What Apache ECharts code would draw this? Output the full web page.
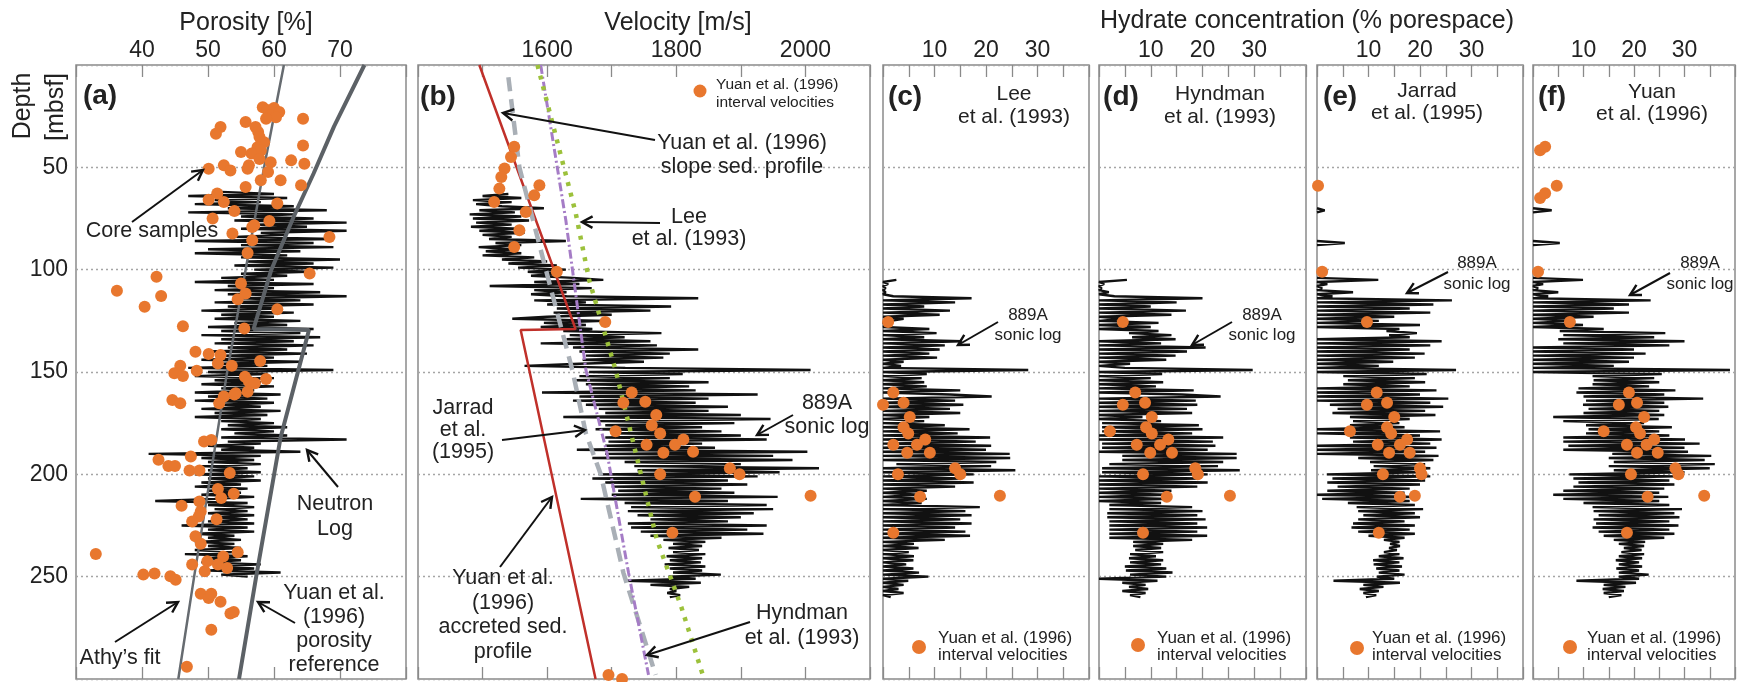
<!DOCTYPE html>
<html>
<head>
<meta charset="utf-8">
<script src="https://cdn.jsdelivr.net/npm/echarts@6/dist/echarts.min.js"></script>
<style>
  html, body { margin: 0; padding: 0; background: #fff; }
  #chart { width: 1738px; height: 682px; }
</style>
</head>
<body>
<div id="chart"></div>
<script>
// ---- data ----
// depth logs: one value per metre, starting at the given depth (mbsf)
const neutronStart = 62;
const neutronLog = [52,60,47,62,51,58,48,63,53,68, 47,63,55,66,54,71,57,65,55,71, 58,62,54,69,48,66,55,69,50,64,
  48,62,55,70,56,66,54,69,57,65, 55,62,52,60,48,66,53,60,51,67, 53,71,55,64,51,66,53,61,49,63,
  52,60,51,64,54,62,50,66,52,64, 49,67,52,63,51,66,53,62,50,65, 52,60,49,64,52,59,47,69,50,59,
  48,60,51,58,49,60,52,57,48,61, 50,59,48,60,52,58,49,61,51,59, 48,58,52,60,53,62,52,60,54,62,
  52,71,53,58,50,57,52,64,41,58, 49,57,50,58,49,56,50,58,48,57, 50,58,49,55,48,56,50,55,49,57,
  51,42,56,50,57,51,56,50,57,51, 56,50,57,46,56,50,57,48,54,50, 55,48,54,50,55,48,54,46.5,56,50,
  55,49,58,51,57,50,61,52,56];

const sonicStart = 63;
const sonicLog = [1540,1500,1560,1485,1545,1490,1530,1595,1495,1550, 1480,1560,1485,1572,1490,1545,1482,1555,1495,1565,
  1500,1545,1510,1629,1520,1560,1494,1550,1505,1560, 1500,1580,1530,1600,1540,1615,1555,1629,1570,1620,
  1575,1640,1687,1580,1650,1511,1669,1580,1630,1575, 1630,1834,1580,1660,1600,1792,1615,1760,1610,1700,
  1600,1546,1690,1595,1660,1590,1670,1625,1777,1635, 1720,1630,1760,1590,1770,1640,1834,1650,1790,1660,
  1780,1655,1750,1650,1565,1721,2008,1665,1810,1650, 1790,1645,1850,1660,1820,1670,1830,1592,1926,1650,
  1850,1640,1830,1660,1880,1680,1850,1690,1900,1625, 1946,1680,1890,1690,1840,1675,1870,1700,1900,1690,
  1940,1695,1840,1690,1860,1646,2003,1690,1950,1670, 1980,1720,1900,1735,2021,1740,1960,1680,1926,1670,
  1880,1690,1910,1700,1870,1710,1890,1700,1957,1652, 1880,1720,1940,1730,1950,1725,1920,1740,1900,1760,
  1880,1725,1940,1730,1910,1745,1935,1760,1870,1780, 1845,1795,1840,1788,1835,1795,1845,1785,1840,1790,
  1838,1782,1845,1790,1840,1795,1869,1788,1830,1721, 1838,1760,1820,1790,1800,1786,1806,1790];

const hydLeeStart = 105;
const hydLee = [2.6,0,1,0,0.5,0,0.5,0,2,17.2, 0,14,0,8,0,13,0,11,0,4, 1.5,0,1,0,9,0,10.4,0,8,0,
  15.3,0,12,0,11,0,9,0,10.5,0, 4,0,3.5,0,28.2,0,8.5,0,7.5,0, 8,0,8.5,0,15,0,13,21.1,0,14,
  0,15.6,0,13,0,15,0,9,0,8, 0,12,0,16.8,0,14.5,0,20.8,0,18, 0,21,0,20,0,24.6,0,24.7,0,22,
  2.6,21,0,25.7,0,17.6,0,15,0,17.6, 0,14,0,8.5,0,7,0,8.5,0,7.5, 0,18.8,0,16,0,17.2,0,15,0,17.2,
  0,14,0,16,0,16.9,0,12,0,6, 0,6.9,0,5,0,6,0,5.9,0,4.5, 0,5.9,0,7,0,8.8,0,4.9,0,4, 0,3,0,4,0,1.5];

const hydHyndmanStart = 105;
const hydHyndman = [5.4,0,1,0,0.5,0,1.9,0,3,20, 0,15,0,10,0,16.8,0,14,0,5, 0,11.5,0,10,0,11.5,5.8,14,6.4,14.8,
  0,12,0,20.6,0,17,0,14.8,0,13, 0,6,0,5,29.7,0,12.2,0,10,0, 12.4,0,11,0,18.3,0,16,23.5,0,18.7,
  0,19,0,17,0,18,0,8.4,0,12, 0.6,19.3,0.6,20,0.6,18,0,24,0,22, 0.6,22.5,0.6,21,0,26.6,4.5,26.6,4.5,24,
  2,23,0.6,27.2,0.6,21,0,19,0,21, 0,19,0,14,0,13,0,13.5,0,12, 2,18,2,20,1.6,19,1.6,20.6,2,19,
  2,20.9,2,19,2,20.9,2,18,6.6,12.4, 6.6,12,7,12.4,6,11,5.8,12.4,6,12, 5,13,5.2,14.2,6,13,0,11.3,4.5,9,
  5.8,9.5,4.5,9,6,8];

const hydJarradStart = 70;
const hydJarrad = [0,1.5,0, null,null,null,null,null,null,null,null,null,null,null,null,null, 0,5.4,0,
  null,null,null,null,null,null,null,null,null,null,null,null,null,null,null, 0,
  11.9,0,2,0,1,0,7,0,3,0, 26.2,0,22.6,0,18,0,22,0,15,0, 12,0,20,0,16,13.5,19.4,14,18,0,
  24.2,0,22,0,18,0,20.9,0,19,0, 14.8,0,12,0,27,0,21.3,5.1,19,6, 21,5.1,18,0,23.2,0,20,0,25.5,0,
  22,2.5,24.5,4,21,3,23,6.4,18,7, 16,6.4,17,0,23.9,0,20,6.4,24.2,7, 22,0,23.2,0,21,0,23.6,8,22.6,10.3,
  21,11,22,10.5,20,1.9,22,3,21,2, 20,4,18,2,17,0,19.4,1,18,6, 19,7.7,20.6,8,19,9,20,8,17,7,
  19,6.7,18,8,19,10,17,13,16,14.2, 16.1,14,15.5,13,16,12,16.8,10.9,16,11, 16.5,11.5,16,12,17,11.6,15,3.2,16.1,9,
  12.9,8.3,12,9,11.5,9.5];

const hydYuanStart = 70;
const hydYuan = [0,3.7,0, null,null,null,null,null,null,null,null,null,null,null,null,null, 0,5.3,0,
  null,null,null,null,null,null,null,null,null,null,null,null,null,null,null, 0,
  9.9,0,2,0,1,0,5,0,3,0, 23.3,0,19,0,16,0,19,0,12,0, 8,0,9.9,0,14,5.3,26.2,6,24,5,
  30,6,27,0,20,0,22.3,0,20,0, 19,0,16,0,39,0,25.5,11.8,24,12, 25,11.8,23,9,28.2,8.6,26,10,33.7,10.5,
  26,9.9,26.8,11,25,10,26,4,24.9,6, 22,10.5,27.5,11,25,10.5,27,6,30.1,6, 33,7,30,6,30.7,15.7,35.3,15,34,16,
  36,15,35,16,30,7.2,28.2,8,27,9, 28,8,26,6,25,4,26.8,6,25,10, 27,11.8,29.5,12,28,13,29,12,27,12.5,
  28.8,11.8,27,13,28,14,26,16,22.2,17, 22,18,21.5,17.5,22,17,21.6,16.4,21,17, 21.6,16.5,21,17,22.9,17,21,8.6,20.4,14,
  18.3,13.8,18,14,17.5,15];

// [porosity %, depth]
const coreSamples = [[58.3,20.6],[59,22],[60,21],[60.8,23],[59.5,24.6],[60.3,25.5],[58.8,26.3],[64.4,26.3],[55.7,27.9],
  [51.9,30.3],[51.2,33.6],[57.2,30.3],[57.6,32.7],[57.8,35.2],[58.5,37.7],[57.5,40.2],[64.4,39.3],[58,41.8],[55,42.5],
  [56.6,43.3],[57.8,45.9],[56.2,49],[59.5,47.5],[62.6,46.6],[64.6,48.2],[52.4,49],[53.4,51.5],[56,50.7],[59.1,52.3],
  [50.1,50.7],[58,56.3],[61,56.3],[55.7,59.6],[64.1,58.8],[51.4,62.8],[50.1,65.8],[52.4,66.9],[60.5,67.7],[54,71.3],
  [50.7,75],[59.3,76.2],[56.7,79.1],[53.7,82.3],[68.4,84],[57,78.3],[56.7,85.6],[56,91.8],[65.4,101.9],[42.2,103.5],
  [36.2,110.3],[42.9,112.9],[40.4,118.1],[55,106.8],[55.7,111.6],[54.5,114.5],[60.5,119.4],[46.2,127.6],[55.5,128.7],
  [48.1,140.1],[50.1,141.2],[51.9,141.7],[51.5,145.8],[57.9,144.6],[45.8,146.9],[53.6,146.9],[44.9,150.6],[48.3,149.4],
  [46.2,152],[55.6,152.3],[56.2,154.7],[58.8,153.4],[57.1,155.5],[56,159.6],[54.2,160.4],[54,161],[52.4,162],[51.7,165.3],
  [44.6,163.7],[45.8,165.3],[49.4,184],[50.5,183.2],[42.5,192.9],[47.4,191.3],[44,195.9],[45,195.9],[47.2,198.1],
  [48.7,198.1],[53.3,199.4],[51.5,207.2],[53.9,209.5],[52,211.6],[48.7,213.3],[46,215.4],[48.9,218.1],[48.6,220.6],
  [47.6,223],[51.3,221.9],[48.1,230.3],[48.9,233.9],[54.5,238.1],[33,238.9],[52.3,240.1],[49.9,242.5],[47.6,244.1],
  [51.5,244.1],[52.9,245.8],[49.5,247.4],[40.2,249],[41.9,248.5],[44.3,249.8],[45.1,251.5],[48.9,258.3],[50.1,260.4],
  [50.5,258.3],[51.9,262.3],[53.4,268],[53.9,267.3],[50.5,275.9],[46.8,294]];
const athyFit = [[61.5,0],[58.5,50],[55.7,100],[52.9,150],[50.4,200],[47.9,250],[45.5,300]];
const yuanPorosityRef = [[73.7,0],[69.1,30],[66,53],[63,74],[59.6,100],[56.9,129],[65.3,129.5],[61,182],[57.3,250],[54.7,300]];

// [velocity m/s, depth]
const intervalVel = [[1549,40],[1544,45],[1534,50.6],[1529,54.7],[1526,60.4],[1518,66.9],[1588,58.8],[1580,63.7],
  [1567,71.8],[1557,80.7],[1549,88.9],[1615,101],[1690,125.6],[1731,160],[1718,165],[1752,164.5],[1769,171],[1762,176],
  [1706,179],[1775,180],[1754,185.6],[1798,185.6],[1811,183],[1780,189.5],[1826,189],[1775,200],[1883,197],[1898,200],
  [1829,211],[2008,210.5],[1794,228.5],[1695,298],[1716,300]];
const yuanVelProfile = [[1495,0],[1644,129],[1559,129.5],[1675,300]];
const jarradVel = [[1540,6],[1557,50],[1598,100],[1639,149],[1660,180],[1683,200],[1718,248],[1768,298]];
const hyndmanVel = [[1590,0],[1629,76],[1660,149],[1693,190],[1726,248],[1757,298]];
const leeVel = [[1585,0],[1644,72],[1665,105],[1706,149],[1736,188],[1770,232],[1808,265],[1841,298]];

// [hydrate % porespace, depth]
const hydDotsLee = [[1,125.6],[2,160],[0,166],[4,165],[5.2,172],[4,177],[4.9,180],[2,185.6],[6.6,185.6],[8.2,183],
  [4.7,189.5],[9.1,189.5],[2.9,200],[14,197],[15,200],[7.2,211],[22.7,210.5],[2,228.5]];
const hydDotsHyndman = [[4.6,125.6],[7,160],[4.6,166],[8.9,165],[10.2,172],[9.1,177],[2.1,179],[10.2,180],[7.3,185.6],
  [11.8,185.6],[13.4,183],[9.9,189.5],[14.1,189.5],[8.5,200],[18.6,197],[19.1,200],[13.1,211],[25.3,210.5],[8.5,228.5]];
const hydDotsJarrad = [[0.2,59],[1,101],[9.7,125.6],[11.6,160],[9.7,166],[13.6,165],[15,172],[13.6,177],[6.4,179],
  [14.4,180],[11.8,185.6],[16.1,185.6],[17.5,183],[14,189.5],[18,189.5],[20,197],[20.3,200],[12.8,200],[16.1,211],
  [19,210.5],[12,228.5]];
const hydDotsYuan = [[1.4,41.7],[2.4,40],[1.4,65],[2.4,62.7],[4.7,59],[1,101],[7.3,125.6],[19,160],[17,166],[20.6,165],
  [22,172],[20.4,177],[14,179],[21.2,180],[18.6,185.6],[22.5,185.6],[24,183],[20.6,189.5],[24.7,189.5],[28.2,197],
  [28.8,200],[19.4,200],[22.7,211],[33.9,210.5],[18.6,228.5]];

// ---- chart ----
(function () {
  const FONT = "'Liberation Sans', Arial, sans-serif";
  const INK = "#222";
  const ORANGE = "#e8772e";
  const BORDER = "#8a8a8a";

  const hydFmt = v => (v >= 10 && v <= 30 && v % 10 === 0) ? String(v) : "";
  const panels = [
    { left: 76, width: 330, min: 30, max: 80, interval: 10, fmt: v => (v > 30 && v < 80) ? String(v) : "" },
    { left: 418, width: 452, min: 1400, max: 2100, interval: 100, fmt: v => (v % 200 === 0 && v > 1400) ? String(v) : "" },
    { left: 883, width: 206, min: 0, max: 40, interval: 5, fmt: hydFmt },
    { left: 1099, width: 207, min: 0, max: 40, interval: 5, fmt: hydFmt },
    { left: 1317, width: 206, min: 0, max: 40, interval: 5, fmt: hydFmt },
    { left: 1533, width: 204, min: 0, max: 40, interval: 5, fmt: hydFmt }
  ];

  const grid = [], xAxis = [], yAxis = [];
  panels.forEach((p, i) => {
    grid.push({ left: p.left, width: p.width, top: 65, height: 614, show: true,
      borderColor: BORDER, borderWidth: 1.5, backgroundColor: "transparent" });
    const base = {
      gridIndex: i, type: "value", min: p.min, max: p.max, interval: p.interval,
      axisLine: { show: false },
      axisTick: { show: true, inside: true, length: 12, lineStyle: { color: BORDER, width: 1.3 } },
      splitLine: { show: false }
    };
    xAxis.push(Object.assign({}, base, { position: "top",
      axisLabel: { show: true, fontSize: 23, color: INK, fontFamily: FONT, margin: 3, formatter: p.fmt } }));
    xAxis.push(Object.assign({}, base, { position: "bottom", axisLabel: { show: false } }));
    yAxis.push({
      gridIndex: i, type: "value", inverse: true, min: 0, max: 300, interval: 50,
      axisLine: { show: false }, axisTick: { show: false },
      axisLabel: { show: i === 0, fontSize: 23, color: INK, fontFamily: FONT, margin: 8,
        showMinLabel: false, showMaxLabel: false },
      splitLine: { show: true, lineStyle: { color: "#a5a5a5", width: 1.4, type: [2, 3] } }
    });
  });

  function logSeries(g, start, vals) {
    return { type: "line", xAxisIndex: g * 2, yAxisIndex: g, silent: true, z: 2,
      showSymbol: false, symbol: "none", connectNulls: false,
      lineStyle: { color: "#111", width: 2.4 },
      data: vals.map((v, k) => [v === null ? "-" : v, start + k]) };
  }
  function guide(g, pts, style) {
    return { type: "line", xAxisIndex: g * 2, yAxisIndex: g, silent: true, z: 3,
      showSymbol: false, symbol: "none", lineStyle: style, data: pts };
  }
  function dots(g, pts, size) {
    return { type: "scatter", xAxisIndex: g * 2, yAxisIndex: g, silent: true, z: 4,
      symbolSize: size || 12, itemStyle: { color: ORANGE, opacity: 1 }, data: pts };
  }

  const series = [
    logSeries(0, neutronStart, neutronLog),
    guide(0, athyFit, { color: "#666b70", width: 2.5 }),
    guide(0, yuanPorosityRef, { color: "#5c6166", width: 4 }),
    dots(0, coreSamples),
    logSeries(1, sonicStart, sonicLog),
    guide(1, yuanVelProfile, { color: "#c0302a", width: 2.5 }),
    guide(1, jarradVel, { color: "#a9afb6", width: 4.5, type: [14, 8] }),
    guide(1, hyndmanVel, { color: "#a57cc6", width: 3, type: [9, 3, 2, 3] }),
    guide(1, leeVel, { color: "#9cc13b", width: 4.5, type: [4, 7] }),
    dots(1, intervalVel),
    logSeries(2, hydLeeStart, hydLee), dots(2, hydDotsLee),
    logSeries(3, hydHyndmanStart, hydHyndman), dots(3, hydDotsHyndman),
    logSeries(4, hydJarradStart, hydJarrad), dots(4, hydDotsJarrad),
    logSeries(5, hydYuanStart, hydYuan), dots(5, hydDotsYuan)
  ];

  // ---- annotations ----
  const graphic = [];
  function txt(x, y, text, size, o) {
    o = o || {};
    graphic.push({ type: "text", x: x, y: y, rotation: o.rot || 0, z: 20,
      style: { text: text, fontSize: size, fontFamily: FONT, fontWeight: o.bold ? "bold" : "normal",
        fill: INK, align: o.align || "center", verticalAlign: "middle", lineHeight: o.lh || size * 1.15 } });
  }
  function arrow(x1, y1, x2, y2) {
    const a = Math.atan2(y1 - y2, x1 - x2), L = 12, s = 0.5;
    graphic.push({ type: "line", z: 20, shape: { x1: x1, y1: y1, x2: x2, y2: y2 },
      style: { stroke: "#111", lineWidth: 2 } });
    graphic.push({ type: "polyline", z: 20,
      shape: { points: [[x2 + L * Math.cos(a + s), y2 + L * Math.sin(a + s)], [x2, y2],
        [x2 + L * Math.cos(a - s), y2 + L * Math.sin(a - s)]] },
      style: { stroke: "#111", lineWidth: 2.4, fill: null } });
  }
  function legendDot(cx, cy, r) {
    graphic.push({ type: "circle", z: 20, shape: { cx: cx, cy: cy, r: r }, style: { fill: ORANGE } });
  }

  // titles
  txt(246, 23, "Porosity [%]", 25);
  txt(678, 23, "Velocity [m/s]", 25);
  txt(1307, 21, "Hydrate concentration (% porespace)", 25);
  txt(23, 106, "Depth", 25, { rot: Math.PI / 2 });
  txt(56, 107, "[mbsf]", 25, { rot: Math.PI / 2 });

  // panel letters
  [["(a)", 100, 96], ["(b)", 438, 97], ["(c)", 905, 97], ["(d)", 1121, 97], ["(e)", 1340, 97], ["(f)", 1552, 97]]
    .forEach(l => txt(l[1], l[2], l[0], 28, { bold: true }));

  // panel a
  txt(152, 231, "Core samples", 21.5);
  arrow(132, 222, 203, 170);
  txt(335, 517, "Neutron\nLog", 21.5, { lh: 25 });
  arrow(338, 487, 307, 450);
  txt(334, 629, "Yuan et al.\n(1996)\nporosity\nreference", 21.5, { lh: 24 });
  arrow(295, 623, 258, 602);
  txt(120, 658, "Athy\u2019s fit", 21.5);
  arrow(115, 642, 178, 602);

  // panel b
  txt(742, 155, "Yuan et al. (1996)\nslope sed. profile", 21.5, { lh: 23.5 });
  arrow(655, 140, 503, 113);
  txt(689, 228, "Lee\net al. (1993)", 21.5, { lh: 22 });
  arrow(660, 223, 582, 222);
  txt(463, 430, "Jarrad\net al.\n(1995)", 21.5, { lh: 22 });
  arrow(502, 440, 585, 430);
  txt(827, 415, "889A\nsonic log", 21.5, { lh: 23.5 });
  arrow(793, 415, 757, 435);
  txt(503, 615, "Yuan et al.\n(1996)\naccreted sed.\nprofile", 21.5, { lh: 24.5 });
  arrow(500, 567, 552, 497);
  txt(802, 626, "Hyndman\net al. (1993)", 21.5, { lh: 25 });
  arrow(750, 622, 647, 655);
  legendDot(700, 91, 6.5);
  txt(716, 94, "Yuan et al. (1996)\ninterval velocities", 15.5, { align: "left", lh: 18 });

  // panels c-f
  txt(1014, 106, "Lee\net al. (1993)", 21, { lh: 23 });
  txt(1220, 106, "Hyndman\net al. (1993)", 21, { lh: 23 });
  txt(1427, 102, "Jarrad\net al. (1995)", 21, { lh: 22 });
  txt(1652, 103, "Yuan\net al. (1996)", 21, { lh: 22 });
  txt(1028, 325, "889A\nsonic log", 17, { lh: 20 });
  arrow(998, 322, 958, 345);
  txt(1262, 325, "889A\nsonic log", 17, { lh: 20 });
  arrow(1232, 322, 1192, 345);
  txt(1477, 274, "889A\nsonic log", 17, { lh: 21 });
  arrow(1448, 272, 1407, 293);
  txt(1700, 274, "889A\nsonic log", 17, { lh: 21 });
  arrow(1670, 273, 1630, 295);
  [[919, 647, 938], [1138, 645, 1157], [1357, 648, 1372], [1570, 647, 1587]].forEach(l => {
    legendDot(l[0], l[1], 7);
    txt(l[2], 647, "Yuan et al. (1996)\ninterval velocities", 17, { align: "left", lh: 17.5 });
  });

  const myChart = echarts.init(document.getElementById("chart"));
  myChart.setOption({
    animation: false,
    backgroundColor: "#fff",
    textStyle: { fontFamily: FONT },
    grid: grid, xAxis: xAxis, yAxis: yAxis, series: series, graphic: graphic
  });
  window.addEventListener("resize", () => myChart.resize());
})();
</script>
</body>
</html>
